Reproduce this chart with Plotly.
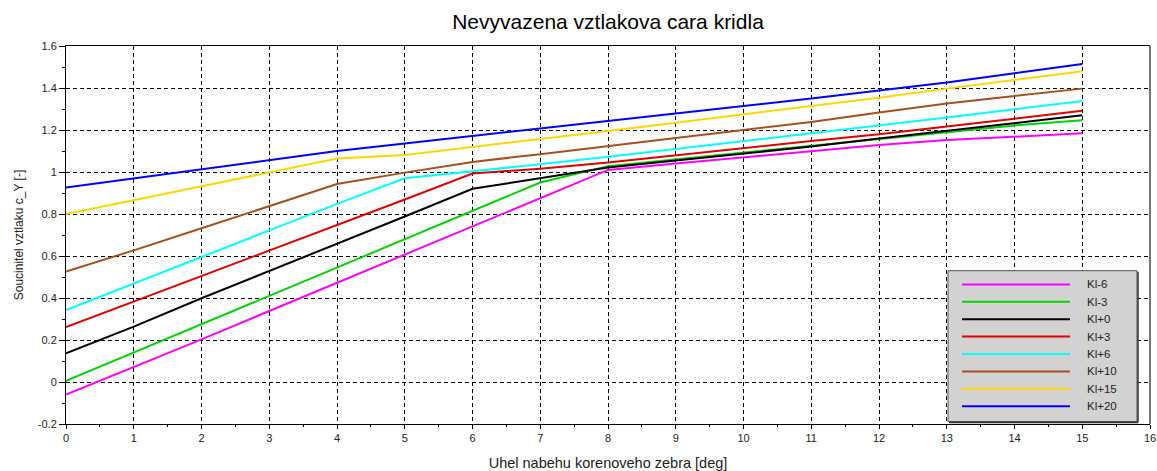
import plotly.graph_objects as go

# ---------------- data ----------------
alpha = list(range(0, 16))
series_names = ["Kl-6", "Kl-3", "Kl+0", "Kl+3", "Kl+6", "Kl+10", "Kl+15", "Kl+20"]
kl_m6 = [-0.06, 0.071, 0.203, 0.338, 0.472, 0.606, 0.74, 0.876, 1.01, 1.04, 1.07, 1.10, 1.129, 1.152, 1.168, 1.184]
kl_m3 = [0.005, 0.14, 0.275, 0.41, 0.545, 0.68, 0.815, 0.95, 1.028, 1.06, 1.092, 1.124, 1.159, 1.19, 1.222, 1.246]
kl_p0 = [0.137, 0.264, 0.399, 0.529, 0.656, 0.788, 0.92, 0.97, 1.021, 1.055, 1.088, 1.121, 1.159, 1.195, 1.232, 1.27]
kl_p3 = [0.262, 0.383, 0.504, 0.627, 0.748, 0.869, 0.993, 1.016, 1.045, 1.08, 1.114, 1.148, 1.18, 1.216, 1.254, 1.292]
kl_p6 = [0.343, 0.468, 0.595, 0.722, 0.848, 0.97, 1.002, 1.037, 1.073, 1.11, 1.147, 1.184, 1.222, 1.259, 1.299, 1.338]
kl_p10 = [0.526, 0.627, 0.732, 0.836, 0.943, 0.997, 1.048, 1.085, 1.125, 1.162, 1.20, 1.238, 1.283, 1.326, 1.362, 1.397]
kl_p15 = [0.80, 0.866, 0.932, 0.998, 1.064, 1.081, 1.118, 1.156, 1.195, 1.235, 1.274, 1.314, 1.354, 1.397, 1.438, 1.48]
kl_p20 = [0.926, 0.97, 1.013, 1.056, 1.10, 1.136, 1.171, 1.207, 1.243, 1.279, 1.314, 1.35, 1.389, 1.426, 1.47, 1.514]
series_values = [kl_m6, kl_m3, kl_p0, kl_p3, kl_p6, kl_p10, kl_p15, kl_p20]

x_tickvals = list(range(0, 17))
x_ticktext = [str(v) for v in x_tickvals]
y_tickvals = [-0.2, 0, 0.2, 0.4, 0.6, 0.8, 1.0, 1.2, 1.4, 1.6]
y_ticktext = ["-0.2", "0", "0.2", "0.4", "0.6", "0.8", "1", "1.2", "1.4", "1.6"]

title_text = "Nevyvazena vztlakova cara kridla"
x_title = "Uhel nabehu korenoveho zebra [deg]"
y_title = "Soucinitel vztlaku c_Y [-]"

# ---------------- style ----------------
colors = ["#ff00ff", "#00d400", "#000000", "#e00000", "#00ffff", "#a5501e", "#ffd700", "#0000ff"]
FONT = "Liberation Sans, Arial, sans-serif"
W, H = 1157, 471
L, R, T, B = 66, 1150, 46, 424.5

def px_x(p):
    return (p - L) / (R - L)

def px_y(p):
    return (B - p) / (B - T)

fig = go.Figure()
for name, vals, col in zip(series_names, series_values, colors):
    fig.add_trace(go.Scatter(x=alpha, y=vals, mode="lines", name=name,
                             line=dict(color=col, width=2), showlegend=False))

axis_common = dict(
    showline=True, linecolor="#000000", linewidth=1,
    showgrid=True, gridcolor="#000000", gridwidth=1, griddash="4px,3px",
    zeroline=False, ticks="outside", tickcolor="#000000", automargin=False,
    tickfont=dict(family=FONT, size=11, color="#222222"),
)

fig.update_xaxes(range=[0, 16], tickvals=x_tickvals, ticktext=x_ticktext,
                 ticklen=4, mirror=True,
                 minor=dict(dtick=0.5, ticklen=2, ticks="outside", tickcolor="#000000", showgrid=False),
                 title=dict(text=x_title, font=dict(family=FONT, size=14.5, color="#222222"), standoff=14),
                 **axis_common)
fig.update_yaxes(range=[-0.2, 1.6], tickvals=y_tickvals, ticktext=y_ticktext,
                 ticklen=6,
                 minor=dict(dtick=0.1, ticklen=3, ticks="outside", tickcolor="#000000", showgrid=False),
                 title=dict(text=y_title, font=dict(family=FONT, size=12, color="#222222"), standoff=11),
                 **axis_common)

shapes = []
# right frame line (gray)
shapes.append(dict(type="line", xref="paper", yref="paper", x0=1, x1=1, y0=0, y1=1,
                   line=dict(color="#777777", width=2)))

# legend box
lx0, lx1, ly0, ly1 = 948, 1137, 271, 422
shapes.append(dict(type="rect", xref="paper", yref="paper",
                   x0=px_x(lx0), x1=px_x(lx1), y0=px_y(ly1), y1=px_y(ly0),
                   fillcolor="#d2d2d2", line=dict(color="#555555", width=1)))
shapes.append(dict(type="line", xref="paper", yref="paper",
                   x0=px_x(lx1 + 1), x1=px_x(lx1 + 1), y0=px_y(ly1 + 1), y1=px_y(ly0 + 1),
                   line=dict(color="#333333", width=1.5)))
shapes.append(dict(type="line", xref="paper", yref="paper",
                   x0=px_x(lx0 + 1), x1=px_x(lx1 + 1), y0=px_y(ly1 + 1), y1=px_y(ly1 + 1),
                   line=dict(color="#333333", width=1.5)))

annotations = []
row0, row_step = 284.7, 17.43
for i, (name, col) in enumerate(zip(series_names, colors)):
    yy = px_y(row0 + i * row_step)
    shapes.append(dict(type="line", xref="paper", yref="paper",
                       x0=px_x(962), x1=px_x(1070), y0=yy, y1=yy,
                       line=dict(color=col, width=2)))
    annotations.append(dict(xref="paper", yref="paper", x=px_x(1085), y=yy,
                            xanchor="left", yanchor="middle", showarrow=False,
                            text=name, font=dict(family=FONT, size=11.5, color="#222222")))

fig.update_layout(
    width=W, height=H,
    margin=dict(l=L, r=W - R, t=T, b=H - B, autoexpand=False),
    paper_bgcolor="#ffffff", plot_bgcolor="#ffffff",
    title=dict(text=title_text, x=0.5, xref="paper", xanchor="center",
               y=1 - 22 / H, yref="container", yanchor="middle",
               font=dict(family=FONT, size=21, color="#000000")),
    shapes=shapes, annotations=annotations, showlegend=False,
)

fig.write_html("out.html")
